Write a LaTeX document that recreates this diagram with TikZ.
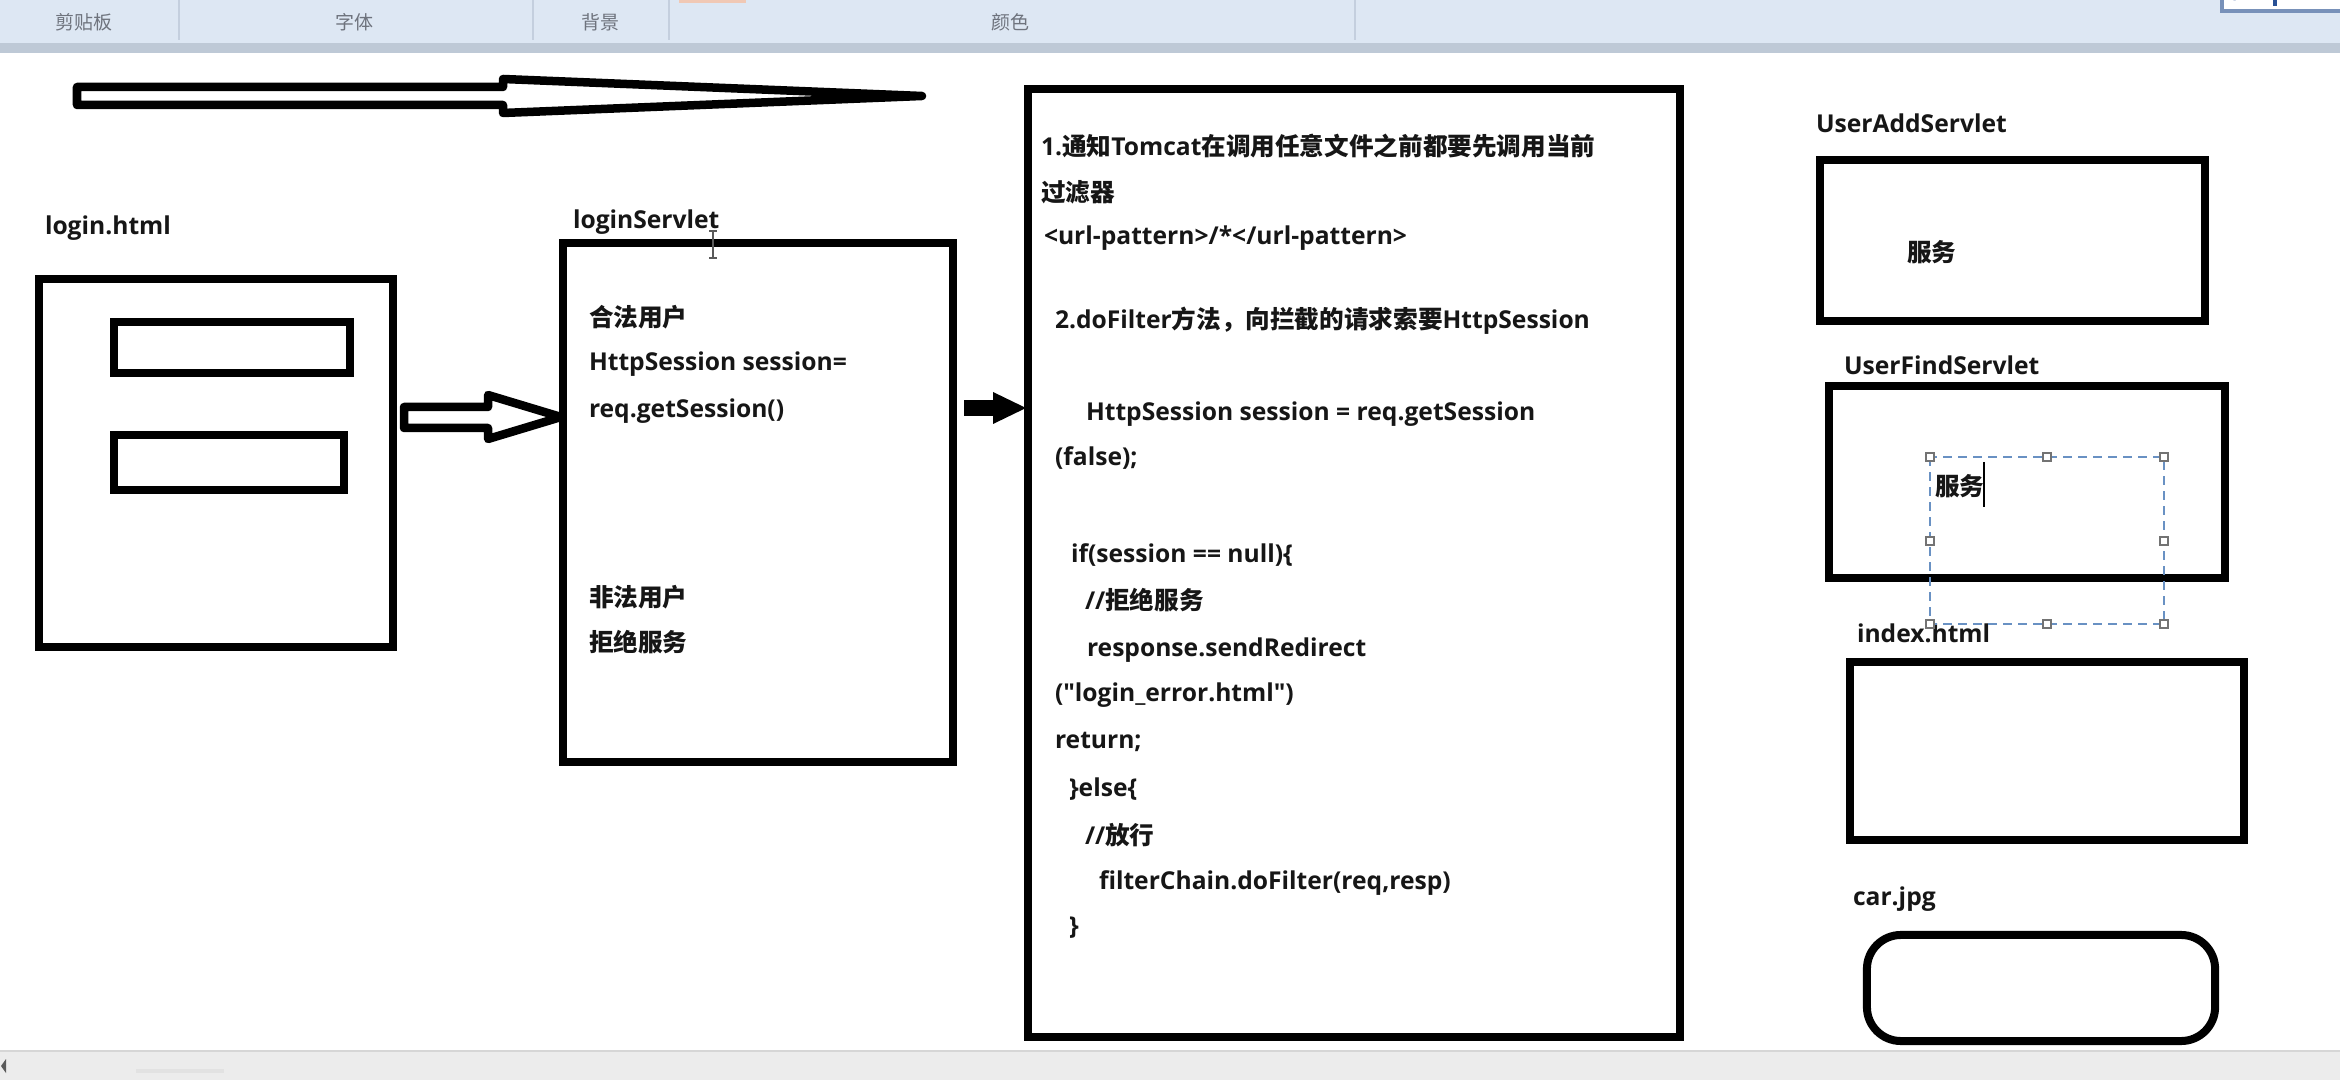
\documentclass[tikz,border=0pt]{standalone}
\usepackage{fontspec}
\setmainfont{Open Sans}[Ligatures=TeXOff]
\newfontfamily\cjkf{Noto Sans CJK SC}
\newcommand\zh[1]{{\cjkf #1}}
\newcommand\labfont{\fontsize{7pt}{8.4pt}\selectfont\bfseries}
\newcommand\barfont{\fontsize{5.4pt}{6pt}\selectfont\cjkf}
\definecolor{ink}{RGB}{22,22,22}
\definecolor{ribbon}{RGB}{221,231,243}
\definecolor{ribbonedge}{RGB}{190,201,214}
\definecolor{ribbonsep}{RGB}{196,207,222}
\definecolor{ribbontxt}{RGB}{110,115,125}
\definecolor{statusbar}{RGB}{236,236,236}
\definecolor{statusline}{RGB}{214,214,214}
\definecolor{statusthumb}{RGB}{226,226,226}
\definecolor{statusarrow}{RGB}{90,90,90}
\definecolor{selblue}{RGB}{105,145,195}
\definecolor{handle}{RGB}{115,115,115}
\definecolor{iconframe}{RGB}{120,145,185}
\definecolor{iconblue}{RGB}{40,80,150}
\definecolor{tabmark}{RGB}{240,200,180}
\definecolor{beam}{RGB}{90,90,90}
\tikzset{
  box/.style={draw=black, line width=0.08cm, inner sep=0pt, outer sep=0pt},
  blockarrow/.style={draw=black, line width=0.085cm, line join=round},
  lbl/.style={anchor=base west, inner sep=0pt, outer sep=0pt, font=\labfont, text=ink},
  bartxt/.style={anchor=center, inner sep=0pt, font=\barfont, text=ribbontxt},
  handlebox/.style={draw=handle, fill=white, line width=0.4pt, minimum size=0.08cm, inner sep=0pt},
}
\begin{document}
\begin{tikzpicture}[x=0.01cm,y=-0.01cm]
\useasboundingbox (0,0) rectangle (2340,1080);
\fill[white] (0,0) rectangle (2340,1080);

% ---- ribbon at top ----
\fill[ribbon] (0,0) rectangle (2340,43);
\fill[ribbonedge] (0,43) rectangle (2340,53);
\foreach \sx in {179,533,669,1355}{\draw[ribbonsep, line width=0.8pt] (\sx,0) -- (\sx,40);}
\node[bartxt] (rb1) at (84,22) {剪贴板};
\node[bartxt] (rb2) at (354,22) {字体};
\node[bartxt] (rb3) at (600,22) {背景};
\node[bartxt] (rb4) at (1010,22) {颜色};
\fill[white] (2222,-2) rectangle (2342,11);
\draw[iconframe, line width=1pt] (2222,-2) -- (2222,11) -- (2342,11);
\draw[iconblue, line width=1.4pt] (2233,0) arc[start angle=180, end angle=250, radius=16];
\draw[iconblue, line width=1.2pt] (2275,0) -- (2275,6);
\fill[tabmark] (679,0) rectangle (746,3);

% ---- status bar at bottom ----
\fill[statusbar] (0,1051) rectangle (2340,1080);
\draw[statusline, line width=0.6pt] (0,1051) -- (2340,1051);
\fill[statusarrow] (1,1066) -- (6,1059) -- (6,1073) -- cycle;
\draw[statusthumb, line width=1pt] (136,1071) -- (224,1071);

% ---- top long arrow ----
\draw[blockarrow] (77,87) -- (503,87) -- (503,79) -- (922,96) -- (503,113) -- (503,105) -- (77,105) -- cycle;

% ---- login.html ----
\node[lbl] (loginlbl) at (45,235) {login.html};
\node[box, minimum width=3.54cm, minimum height=3.68cm] (login) at (216,463) {};
\node[box, minimum width=2.36cm, minimum height=0.51cm] (in1) at (232,347.5) {};
\node[box, minimum width=2.30cm, minimum height=0.55cm] (in2) at (229,462.5) {};

% ---- loginServlet ----
\node[lbl] (srvlbl) at (573,229) {loginServlet};
\node[box, minimum width=3.90cm, minimum height=5.19cm] (srv) at (758,502.5) {};
\node[lbl] (s1) at (589,327) {\zh{合法用户}};
\node[lbl] (s2) at (589,371) {HttpSession session=};
\node[lbl] (s3) at (589,418) {req.getSession()};
\node[lbl] (s4) at (589,607) {\zh{非法用户}};
\node[lbl] (s5) at (589,652) {\zh{拒绝服务}};
% I-beam mouse cursor
\draw[beam, line width=0.5pt] (713,232) -- (713,257)
  (709,231) -- (717,231) (709,258) -- (717,258);

% hollow arrow login -> loginServlet
\draw[blockarrow] (404,407) -- (488,407) -- (488,395) -- (561,417) -- (488,439) -- (488,428) -- (404,428) -- cycle;

% ---- filter box ----
\node[box, minimum width=6.52cm, minimum height=9.48cm] (filt) at (1354,563) {};
% solid arrow loginServlet -> filter
\fill[black] (964,400) rectangle (998,416);
\fill[black] (993,392) -- (1026,408) -- (993,424) -- cycle;

\node[lbl] (f1) at (1041,156) {1.\zh{通知}Tomcat\zh{在调用任意文件之前都要先调用当前}};
\node[lbl] (f2) at (1041,202) {\zh{过滤器}};
\node[lbl] (f3) at (1044,245) {<url-pattern>/*</url-pattern>};
\node[lbl] (f4) at (1055,329) {2.doFilter\zh{方法，向拦截的请求索要}HttpSession};
\node[lbl] (f5) at (1086,421) {HttpSession session = req.getSession};
\node[lbl] (f6) at (1055,466) {(false);};
\node[lbl] (f7) at (1071,563) {if(session == null)\{};
\node[lbl] (f8) at (1085,610) {//\zh{拒绝服务}};
\node[lbl] (f9) at (1087,657) {response.sendRedirect};
\node[lbl] (f10) at (1055,702) {("login\_error.html")};
\node[lbl] (f11) at (1055,749) {return;};
\node[lbl] (f12) at (1069,797) {\}else\{};
\node[lbl] (f13) at (1085,844) {//\zh{放行}};
\node[lbl] (f14) at (1099,889) {filterChain.doFilter(req,resp)};
\node[lbl] (f15) at (1069,934) {\}};

% ---- right column ----
\node[lbl] (addlbl) at (1816,133) {UserAddServlet};
\node[box, minimum width=3.85cm, minimum height=1.61cm] (add) at (2012.5,240.5) {};
\node[lbl] (addtxt) at (1907,262) {\zh{服务}};

\node[lbl] (findlbl) at (1844,375) {UserFindServlet};
\node[box, minimum width=3.96cm, minimum height=1.92cm] (find) at (2027,482) {};
\node[lbl] (findtxt) at (1935,496) {\zh{服务}};
\draw[black, line width=0.6pt] (1984,462) -- (1984,507);

\node[lbl] (idxlbl) at (1857,643) {index.html};
\node[box, minimum width=3.94cm, minimum height=1.78cm] (idx) at (2047,751) {};

\node[lbl] (carlbl) at (1853,906) {car.jpg};
\node[box, rounded corners=0.34cm, minimum width=3.48cm, minimum height=1.06cm] (car) at (2041,988) {};

% selection frame around the text
\draw[selblue, line width=0.5pt, dash pattern=on 0.9mm off 0.6mm] (1930,457) rectangle (2164,624);
\foreach \hx/\hy [count=\i] in {1930/457,2047/457,2164/457,1930/541,2164/541,1930/624,2047/624,2164/624}
  {\node[handlebox] (h\i) at (\hx,\hy) {};}
\end{tikzpicture}
\end{document}
